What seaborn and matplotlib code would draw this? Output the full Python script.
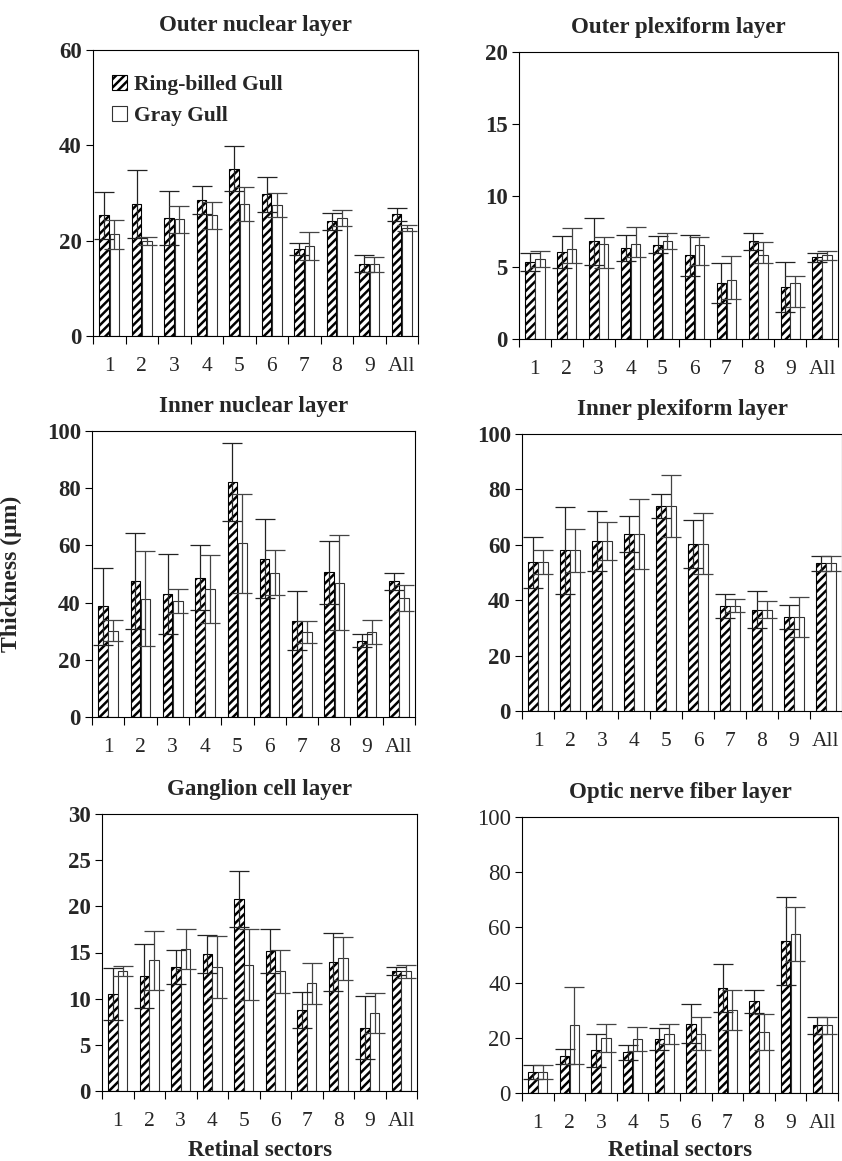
import numpy as np
import pandas as pd
import matplotlib
matplotlib.use("Agg")
import matplotlib.pyplot as plt
import seaborn as sns

# ---------------- data ----------------
sectors = ["1", "2", "3", "4", "5", "6", "7", "8", "9", "All"]
species = ["Ring-billed Gull", "Gray Gull"]

onl_rb = [25.3, 27.7, 24.8, 28.5, 35.1, 29.7, 18.3, 24.1, 15.2, 25.5]
onl_rb_sd = [5.0, 7.2, 5.7, 3.0, 4.7, 3.7, 1.3, 1.8, 1.8, 1.4]
onl_gg = [21.3, 19.9, 24.5, 25.3, 27.7, 27.5, 18.9, 24.8, 15.0, 22.7]
onl_gg_sd = [3.0, 0.9, 2.8, 2.9, 3.6, 2.6, 2.9, 1.7, 1.5, 0.6]

opl_rb = [5.37, 6.06, 6.81, 6.34, 6.57, 5.83, 3.88, 6.81, 3.60, 5.69]
opl_rb_sd = [0.6, 1.1, 1.65, 0.93, 0.6, 1.44, 1.4, 0.6, 1.75, 0.33]
opl_gg = [5.55, 6.30, 6.62, 6.62, 6.81, 6.57, 4.11, 5.83, 3.88, 5.83]
opl_gg_sd_up = [0.6, 1.44, 0.51, 1.21, 0.6, 0.56, 1.67, 0.93, 0.51, 0.33]
opl_gg_sd_dn = [0.5, 0.98, 1.67, 0.93, 0.56, 1.39, 1.35, 0.51, 1.67, 0.33]

inl_rb = [38.7, 47.7, 43.0, 48.7, 82.2, 55.3, 33.7, 50.6, 26.7, 47.4]
inl_rb_sd = [13.5, 16.8, 14.1, 11.4, 13.6, 13.8, 10.3, 11.0, 2.3, 3.1]
inl_gg = [30.2, 41.4, 40.5, 44.6, 60.7, 50.4, 29.6, 46.9, 29.6, 41.6]
inl_gg_sd = [3.6, 16.5, 4.1, 11.9, 17.4, 7.9, 3.8, 16.6, 4.2, 4.5]

ipl_rb = [53.7, 58.0, 61.4, 63.9, 74.0, 60.4, 38.0, 36.6, 33.9, 53.4]
ipl_rb_sd = [9.2, 15.8, 10.8, 6.6, 4.4, 8.6, 4.3, 6.8, 4.4, 2.7]
ipl_gg = [53.7, 58.0, 61.4, 63.9, 74.0, 60.4, 38.0, 36.6, 33.9, 53.4]
ipl_gg_sd = [4.4, 7.7, 6.8, 12.8, 11.3, 11.1, 2.3, 3.2, 7.1, 2.7]

gcl_rb = [10.47, 12.45, 13.39, 14.84, 20.79, 15.16, 8.77, 13.97, 6.86, 12.96]
gcl_rb_sd = [2.8, 3.45, 1.85, 2.1, 3.07, 2.42, 1.9, 3.15, 3.4, 0.43]
gcl_gg = [12.96, 14.15, 15.38, 13.39, 13.68, 12.96, 11.66, 14.37, 8.48, 12.96]
gcl_gg_sd = [0.55, 3.2, 2.2, 3.35, 3.86, 2.3, 2.2, 2.35, 2.17, 0.72]

onfl_rb = [7.6, 13.3, 15.5, 14.7, 19.6, 25.1, 38.0, 33.2, 55.0, 24.5]
onfl_rb_sd = [2.4, 2.8, 6.0, 2.7, 4.0, 7.0, 8.8, 4.3, 16.0, 3.2]
onfl_gg = [7.6, 24.5, 19.9, 19.6, 21.4, 21.4, 30.0, 22.2, 57.7, 24.5]
onfl_gg_sd = [2.4, 14.0, 5.0, 4.4, 3.6, 6.0, 7.3, 6.5, 9.8, 3.2]

titles = ["Outer nuclear layer", "Outer plexiform layer", "Inner nuclear layer",
          "Inner plexiform layer", "Ganglion cell layer", "Optic nerve fiber layer"]
y_max = [60, 20, 100, 100, 30, 100]
y_step = [20, 5, 20, 20, 5, 20]

# ---------------- style ----------------
sns.set_theme(style="ticks")
plt.rcParams["font.family"] = ["Liberation Serif", "DejaVu Serif"]
plt.rcParams["hatch.linewidth"] = 1.8
plt.rcParams["hatch.color"] = "black"

W, H = 842, 1161
fig = plt.figure(figsize=(W / 100, H / 100), dpi=100)

boxes = [(93, 418, 50, 336), (519, 838, 52, 339),
         (92, 415, 431, 717), (522, 842, 434, 711),
         (102, 417, 814, 1091), (522, 838, 817, 1093)]

panels = [
    (onl_rb, onl_rb_sd, onl_rb_sd, onl_gg, onl_gg_sd, onl_gg_sd),
    (opl_rb, opl_rb_sd, opl_rb_sd, opl_gg, opl_gg_sd_up, opl_gg_sd_dn),
    (inl_rb, inl_rb_sd, inl_rb_sd, inl_gg, inl_gg_sd, inl_gg_sd),
    (ipl_rb, ipl_rb_sd, ipl_rb_sd, ipl_gg, ipl_gg_sd, ipl_gg_sd),
    (gcl_rb, gcl_rb_sd, gcl_rb_sd, gcl_gg, gcl_gg_sd, gcl_gg_sd),
    (onfl_rb, onfl_rb_sd, onfl_rb_sd, onfl_gg, onfl_gg_sd, onfl_gg_sd),
]

for i, (box, pdata) in enumerate(zip(boxes, panels)):
    l, r, t, b = box
    ax = fig.add_axes([l / W, 1 - b / H, (r - l) / W, (b - t) / H])
    rb, rb_up, rb_dn, gg, gg_up, gg_dn = pdata
    df = pd.DataFrame({
        "sector": sectors * 2,
        "species": [species[0]] * len(sectors) + [species[1]] * len(sectors),
        "thickness": list(rb) + list(gg),
    })
    sns.barplot(data=df, x="sector", y="thickness", hue="species",
                order=sectors, hue_order=species, palette=["white", "white"],
                width=0.62, gap=0.05, errorbar=None, edgecolor="black",
                linewidth=0.8, legend=False, ax=ax)
    c_rb, c_gg = ax.containers[0], ax.containers[1]
    for p in c_rb.patches:
        p.set_hatch("////")
        if hasattr(p, "set_hatch_linewidth"):
            p.set_hatch_linewidth(1.8)
    for p in c_gg.patches:
        p.set_edgecolor("#333333")
    x_rb = [p.get_x() + p.get_width() / 2 for p in c_rb.patches]
    x_gg = [p.get_x() + p.get_width() / 2 for p in c_gg.patches]
    ax.errorbar(x_rb, rb, yerr=[rb_dn, rb_up], fmt="none", ecolor="#222222",
                elinewidth=0.9, capsize=7.5, capthick=0.9, zorder=3)
    ax.errorbar(x_gg, gg, yerr=[gg_dn, gg_up], fmt="none", ecolor="#444444",
                elinewidth=0.9, capsize=7.5, capthick=0.9, zorder=3)

    ax.set_ylim(0, y_max[i])
    ax.set_yticks(np.arange(0, y_max[i] + 0.1, y_step[i]))
    ax.set_xlim(-0.5, len(sectors) - 0.5)
    ax.set_xticks(range(len(sectors)))
    ax.set_xticklabels(sectors, fontsize=15.5)
    ax.set_xticks(np.arange(-0.5, len(sectors), 1.0), minor=True)
    ax.tick_params(axis="x", which="major", length=0, pad=15)
    ax.tick_params(axis="x", which="minor", length=6, width=0.8, direction="out",
                   color="black", bottom=True)
    ax.tick_params(axis="y", which="major", length=5, width=0.8, direction="out",
                   color="black", pad=3)
    yw = "normal" if i == 5 else "bold"
    for lab in ax.get_yticklabels():
        lab.set_fontsize(16.5)
        lab.set_fontweight(yw)
    for s in ax.spines.values():
        s.set_visible(True)
        s.set_color("black")
        s.set_linewidth(0.8)
    ax.set_title(titles[i], fontsize=16.5, fontweight="bold", pad=14)
    ax.set_xlabel("")
    ax.set_ylabel("")
    if i == 2:
        ax.set_ylabel("Thickness (μm)", fontsize=17, fontweight="bold")
        ax.yaxis.set_label_coords((22 - l) / (r - l), 0.5)
    if i >= 4:
        ax.set_xlabel("Retinal sectors", fontsize=16.5, fontweight="bold")
        ax.xaxis.set_label_coords(0.5, -(1140 - b) / (b - t))
    if i == 0:
        ax.legend([c_rb, c_gg], species, loc="upper left",
                  bbox_to_anchor=(0.0, 0.98), frameon=False,
                  prop={"weight": "bold", "size": 15.5},
                  handlelength=0.7, handleheight=0.7, handletextpad=0.3,
                  labelspacing=0.5)

fig.savefig("out.png", dpi=100)
